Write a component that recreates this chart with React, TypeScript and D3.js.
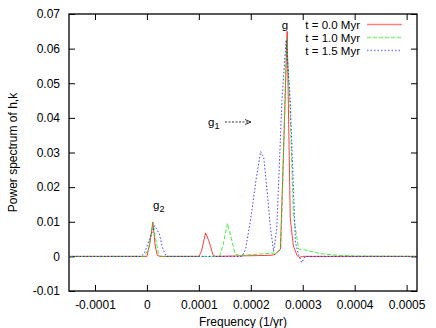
import React, { useEffect, useRef } from 'react';
import * as d3 from 'd3';

// frequency (1/yr) and power
const freqT0 = [-0.00015, -0.00001, 0.0, 0.000006, 0.0000115, 0.000016, 0.00002, 0.000025, 0.0001, 0.000105, 0.000113, 0.00012, 0.000127, 0.000132, 0.00024, 0.000247, 0.000257, 0.000263, 0.00027, 0.000276, 0.000282, 0.000289, 0.000293, 0.0003, 0.00052];
const powerT0 = [0, 0, 0, 0.004, 0.0099, 0.003, 0.0003, 0, 0, 0.0015, 0.0068, 0.0042, 0.0005, 0, 0.0003, 0.0006, 0.002, 0.03, 0.065, 0.011, 0.003, 0.0003, -0.0003, 0, 0];

const freqT1 = [-0.00015, -0.000005, 0.000003, 0.0000115, 0.000017, 0.000022, 0.000027, 0.00014, 0.000147, 0.000155, 0.000162, 0.00017, 0.00018, 0.00022, 0.00025, 0.000258, 0.000264, 0.000269, 0.000275, 0.000282, 0.000292, 0.0003, 0.00032, 0.000334, 0.00036, 0.0004, 0.00052];
const powerT1 = [0, 0, 0.002, 0.0097, 0.005, 0.0008, 0, 0, 0.0035, 0.0095, 0.0055, 0.0006, 0.0003, 0.0007, 0.001, 0.0025, 0.035, 0.063, 0.045, 0.012, 0.0021, 0.002, 0.0013, 0.0008, 0.0004, 0.0001, 0];

const freqT15 = [-0.00015, -0.000012, -0.000005, 0.000005, 0.000015, 0.000024, 0.00003, 0.000037, 0.000183, 0.00019, 0.0002, 0.00021, 0.000219, 0.000225, 0.000232, 0.000238, 0.000244, 0.00025, 0.00026, 0.000268, 0.000276, 0.000286, 0.000292, 0.000298, 0.000305, 0.00052];
const powerT15 = [0, 0, 0.0008, 0.005, 0.0089, 0.0065, 0.0025, 0, 0, 0.002, 0.011, 0.022, 0.0303, 0.0285, 0.018, 0.008, 0.0014, 0.008, 0.045, 0.0625, 0.045, 0.004, 0.0005, -0.0018, 0, 0];

const seriesNames = ['t = 0.0 Myr', 't = 1.0 Myr', 't = 1.5 Myr'];
const xTicks = [-0.0001, 0, 0.0001, 0.0002, 0.0003, 0.0004, 0.0005];
const yTicks = [-0.01, 0, 0.01, 0.02, 0.03, 0.04, 0.05, 0.06, 0.07];

const PowerSpectrum = () => {
  const svgRef = useRef<SVGSVGElement>(null);

  useEffect(() => {
    const svg = d3.select(svgRef.current);
    svg.selectAll('*').remove();

    const margin = { top: 14, right: 19, bottom: 37, left: 69 };
    const width = 436;
    const height = 328;
    const font = 'Liberation Sans, Arial, sans-serif';
    const fs = 11.5;

    const x = d3.scaleLinear().domain([-0.00015, 0.00052]).range([margin.left, width - margin.right]);
    const y = d3.scaleLinear().domain([-0.01, 0.07]).range([height - margin.bottom, margin.top]);

    const fmt = (d: number) => (d === 0 ? '0' : String(+d.toFixed(5)));

    // bottom + top ticks (inward), labels at bottom
    const bottom = svg.append('g').attr('transform', `translate(0,${y(-0.01)})`)
      .call(d3.axisBottom(x).tickValues(xTicks).tickSizeInner(-6).tickSizeOuter(0).tickPadding(9).tickFormat((d) => fmt(+d)));
    const top = svg.append('g').attr('transform', `translate(0,${y(0.07)})`)
      .call(d3.axisTop(x).tickValues(xTicks).tickSizeInner(-6).tickSizeOuter(0).tickFormat(() => ''));
    const left = svg.append('g').attr('transform', `translate(${x(-0.00015)},0)`)
      .call(d3.axisLeft(y).tickValues(yTicks).tickSizeInner(-6).tickSizeOuter(0).tickPadding(9).tickFormat((d) => fmt(+d)));
    const right = svg.append('g').attr('transform', `translate(${x(0.00052)},0)`)
      .call(d3.axisRight(y).tickValues(yTicks).tickSizeInner(-6).tickSizeOuter(0).tickFormat(() => ''));

    [bottom, top, left, right].forEach((g) => {
      g.select('.domain').remove();
      g.selectAll('line').attr('stroke', '#000');
      g.selectAll('text').attr('font-family', font).attr('font-size', 12).attr('fill', '#000');
    });

    svg.append('rect')
      .attr('x', x(-0.00015)).attr('y', y(0.07))
      .attr('width', x(0.00052) - x(-0.00015)).attr('height', y(-0.01) - y(0.07))
      .attr('fill', 'none').attr('stroke', '#000').attr('stroke-width', 1.3);

    const line = d3.line<[number, number]>().x((d) => x(d[0])).y((d) => y(d[1]));
    const series = [
      { f: freqT0, p: powerT0, color: '#ff0000', dash: null },
      { f: freqT1, p: powerT1, color: '#00ee00', dash: '4,2' },
      { f: freqT15, p: powerT15, color: '#0000ff', dash: '1.5,2' },
    ];

    series.forEach((s) => {
      svg.append('path')
        .datum(s.f.map((f, i) => [f, s.p[i]] as [number, number]))
        .attr('fill', 'none')
        .attr('stroke', s.color)
        .attr('stroke-opacity', 0.75)
        .attr('stroke-width', 1)
        .attr('stroke-dasharray', s.dash)
        .attr('d', line);
    });

    // legend
    series.forEach((s, i) => {
      const ly = 24.5 + i * 13;
      svg.append('text').attr('x', 360).attr('y', ly).attr('dy', '0.35em')
        .attr('text-anchor', 'end').attr('font-family', font).attr('font-size', fs)
        .text(seriesNames[i]);
      svg.append('line').attr('x1', 367).attr('x2', 402).attr('y1', ly).attr('y2', ly)
        .attr('stroke', s.color).attr('stroke-opacity', 0.5).attr('stroke-width', 1.6)
        .attr('stroke-dasharray', s.dash);
    });

    // peak labels
    svg.append('text').attr('x', 285).attr('y', 24.5).attr('dy', '0.35em')
      .attr('text-anchor', 'middle').attr('font-family', font).attr('font-size', fs).text('g');

    const g2 = svg.append('text').attr('x', 153).attr('y', 205).attr('dy', '0.35em')
      .attr('font-family', font).attr('font-size', fs);
    g2.append('tspan').text('g');
    g2.append('tspan').attr('dy', 3).attr('font-size', 9).text('2');

    const g1 = svg.append('text').attr('x', 208).attr('y', 122).attr('dy', '0.35em')
      .attr('font-family', font).attr('font-size', fs);
    g1.append('tspan').text('g');
    g1.append('tspan').attr('dy', 3).attr('font-size', 9).text('1');
    svg.append('line').attr('x1', 225).attr('x2', 250).attr('y1', 122).attr('y2', 122)
      .attr('stroke', '#000').attr('stroke-width', 0.8).attr('stroke-dasharray', '2,1.5');
    svg.append('path').attr('d', 'M245,119.5 L251,122 L245,124.5')
      .attr('fill', 'none').attr('stroke', '#000').attr('stroke-width', 0.8);

    // axis titles
    svg.append('text').attr('x', (margin.left + width - margin.right) / 2).attr('y', 322).attr('dy', '0.35em')
      .attr('text-anchor', 'middle').attr('font-family', font).attr('font-size', 12).text('Frequency (1/yr)');
    svg.append('text').attr('transform', `translate(13,${(margin.top + height - margin.bottom) / 2}) rotate(-90)`)
      .attr('dy', '0.35em').attr('text-anchor', 'middle').attr('font-family', font).attr('font-size', 12)
      .text('Power spectrum of h,k');
  }, []);

  return <svg ref={svgRef} width={436} height={328} style={{ position: 'absolute', left: 0, top: 0, background: '#fff' }} />;
};

export default function App() {
  return <PowerSpectrum />;
}
